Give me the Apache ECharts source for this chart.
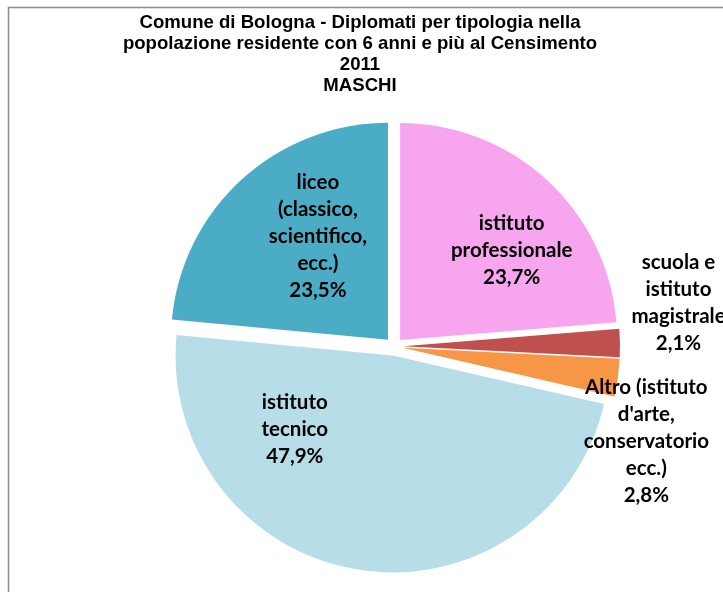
<!DOCTYPE html>
<html>
<head>
<meta charset="utf-8">
<script src="https://cdn.jsdelivr.net/npm/echarts@6/dist/echarts.min.js"></script>
<style>html,body{margin:0;padding:0;background:#fff}#c{width:723px;height:592px}</style>
</head>
<body>
<div id="c"></div>
<script>
const categories = [
  "istituto\nprofessionale",
  "scuola e\nistituto\nmagistrale",
  "Altro (istituto\nd'arte,\nconservatorio\necc.)",
  "istituto\ntecnico",
  "liceo\n(classico,\nscientifico,\necc.)"
];
const values = [23.7, 2.1, 2.8, 47.9, 23.5];
const colors = ['#F8A5EF', '#C0504D', '#F79646', '#B7DDE8', '#4BACC6'];
const labelShift = [[36, -7], [164, -42], [133, 78], [-80, -36], [5, -21]];

const chart = echarts.init(document.getElementById('c'), null, {renderer: 'canvas'});
const data = categories.map((n, i) => ({
  name: n,
  value: values[i],
  selected: true,
  itemStyle: {color: colors[i]}
}));
chart.setOption({
  animation: false,
  backgroundColor: '#fff',
  title: {
    text: 'Comune di Bologna - Diplomati per tipologia nella\npopolazione residente con 6 anni e più al Censimento\n2011\nMASCHI',
    left: 355,
    top: 7.5,
    textAlign: 'center',
    textStyle: {fontFamily: 'Liberation Sans', fontWeight: 'bold', fontSize: 18.6, lineHeight: 21, color: '#000'}
  },
  graphic: [{
    type: 'rect', silent: true,
    shape: {x: 8.5, y: 7.5, width: 900, height: 800},
    style: {fill: 'none', stroke: '#8c8c8c', lineWidth: 1.5}
  }],
  series: [{
    type: 'pie',
    center: [394, 346.5],
    radius: 217,
    startAngle: 90,
    clockwise: true,
    selectedMode: 'multiple',
    selectedOffset: 9,
    avoidLabelOverlap: false,
    emphasis: {disabled: true},
    itemStyle: {borderWidth: 0},
    labelLine: {show: false},
    labelLayout: p => ({dx: labelShift[p.dataIndex][0], dy: labelShift[p.dataIndex][1]}),
    label: {
      show: true,
      position: 'inside',
      fontFamily: 'Lato',
      fontWeight: 'bold',
      fontSize: 20.5,
      lineHeight: 27,
      color: '#000',
      align: 'center',
      formatter: p => p.name + '\n' + p.value.toFixed(1).replace('.', ',') + '%'
    },
    data: data
  }]
});
</script>
</body>
</html>
